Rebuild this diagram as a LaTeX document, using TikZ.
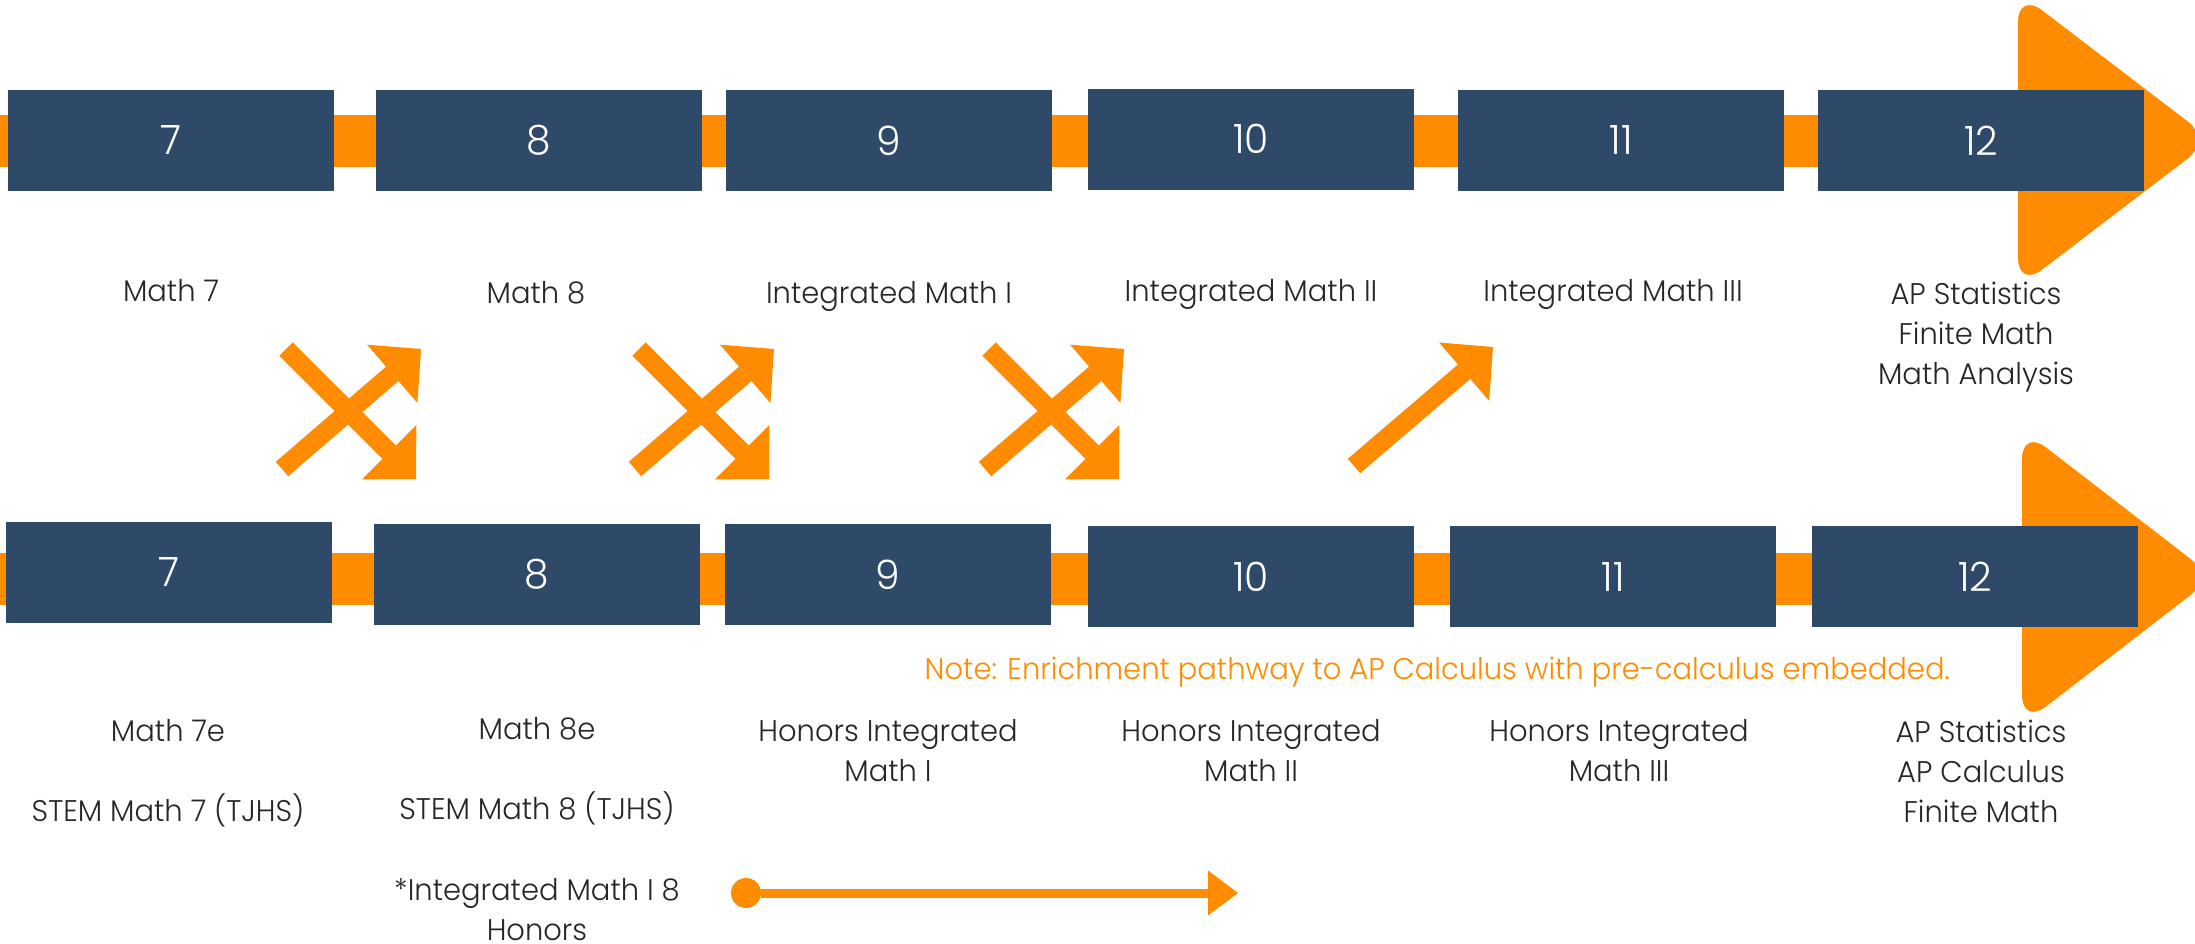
\documentclass[tikz,border=0pt]{standalone}
\usepackage{fontspec}
\setmainfont{Poppins Light}[FakeStretch=0.97]
\usetikzlibrary{arrows.meta}
\definecolor{pathblue}{HTML}{2F4A68}
\definecolor{pathorange}{HTML}{FF8C00}
\definecolor{labelgray}{HTML}{262626}
\tikzset{
  gradebox/.style={fill=pathblue, text=white, minimum width=32.6mm, minimum height=10.1mm, inner sep=0pt, font=\fontsize{11.5}{13}\selectfont},
  course/.style={anchor=north, align=center, inner sep=0pt, text=labelgray, font=\fontsize{8.5}{11.4}\selectfont},
  swaparrow/.style={line width=1.9mm, pathorange, -{Triangle[width=7.7mm,length=3.8mm,line width=0pt]}},
  enrich/.style={line width=0.9mm, pathorange, {Circle[length=3mm,line width=0pt]}-{Triangle[width=4.5mm,length=3mm,line width=0pt]}}
}
\begin{document}
\begin{tikzpicture}[x=0.1mm,y=-0.1mm]
  \useasboundingbox (0,0) rectangle (2195,943);
  % the two timelines
  \fill[pathorange] (0,115) rectangle (2040,167);
  \fill[pathorange,rounded corners=3mm] (2018,-8) -- (2212,140) -- (2018,288) -- cycle;
  \fill[pathorange] (0,553) rectangle (2040,605);
  \fill[pathorange,rounded corners=3mm] (2022,429) -- (2214,577) -- (2022,725) -- cycle;
  % grade boxes
  \foreach \g/\x/\y in {7/171/140.5,8/539/140.5,9/889/140.5,10/1251/139,11/1621/140.5,12/1981/140.5}
    \node[gradebox] (t\g) at (\x,\y) {\g};
  \foreach \g/\x/\y in {7/169/572.5,8/537/574.5,9/888/574.5,10/1251/576.5,11/1613/576.5,12/1975/576.5}
    \node[gradebox] (b\g) at (\x,\y) {\g};
  % courses, standard pathway
  \node[course] (lt7) at (171,279) {Math 7};
  \node[course] (lt8) at (536,281) {Math 8};
  \node[course] (lt9) at (889,281) {Integrated Math I};
  \node[course] (lt10) at (1251,279) {Integrated Math II};
  \node[course] (lt11) at (1613,279) {Integrated Math III};
  \node[course] (lt12) at (1976,281) {AP Statistics\\Finite Math\\Math Analysis};
  % courses, enrichment pathway
  \node[course] (lb7) at (168,719) {Math 7e\\[11.4pt]STEM Math 7 (TJHS)};
  \node[course] (lb8) at (537,717) {Math 8e\\[11.4pt]STEM Math 8 (TJHS)\\[11.4pt]*Integrated Math I 8\\Honors};
  \node[course] (lb9) at (888,719) {Honors Integrated\\Math I};
  \node[course] (lb10) at (1251,719) {Honors Integrated\\Math II};
  \node[course] (lb11) at (1619,719) {Honors Integrated\\Math III};
  \node[course] (lb12) at (1981,719) {AP Statistics\\AP Calculus\\Finite Math};
  \node[course,anchor=base west,text=pathorange] (note) at (924,679) {Note: Enrichment pathway to AP Calculus with pre-calculus embedded.};
  % switching between pathways
  \foreach \x in {276,629,979} {
    \coordinate (dnfrom) at (\x+10,349);
    \coordinate (dnto) at (\x+140,479);
    \coordinate (upfrom) at (\x+6,469);
    \coordinate (upto) at (\x+145,349);
    \draw[swaparrow] (dnfrom) -- (dnto);
    \draw[swaparrow] (upfrom) -- (upto);
  }
  \coordinate (upfrom10) at (1354,466);
  \coordinate (upto10) at (1493,347);
  \draw[swaparrow] (upfrom10) -- (upto10);
  % integrated math I in grade 8
  \coordinate (enrstart) at (731,893);
  \coordinate (enrend) at (1238,893);
  \draw[enrich] (enrstart) -- (enrend);
\end{tikzpicture}
\end{document}
